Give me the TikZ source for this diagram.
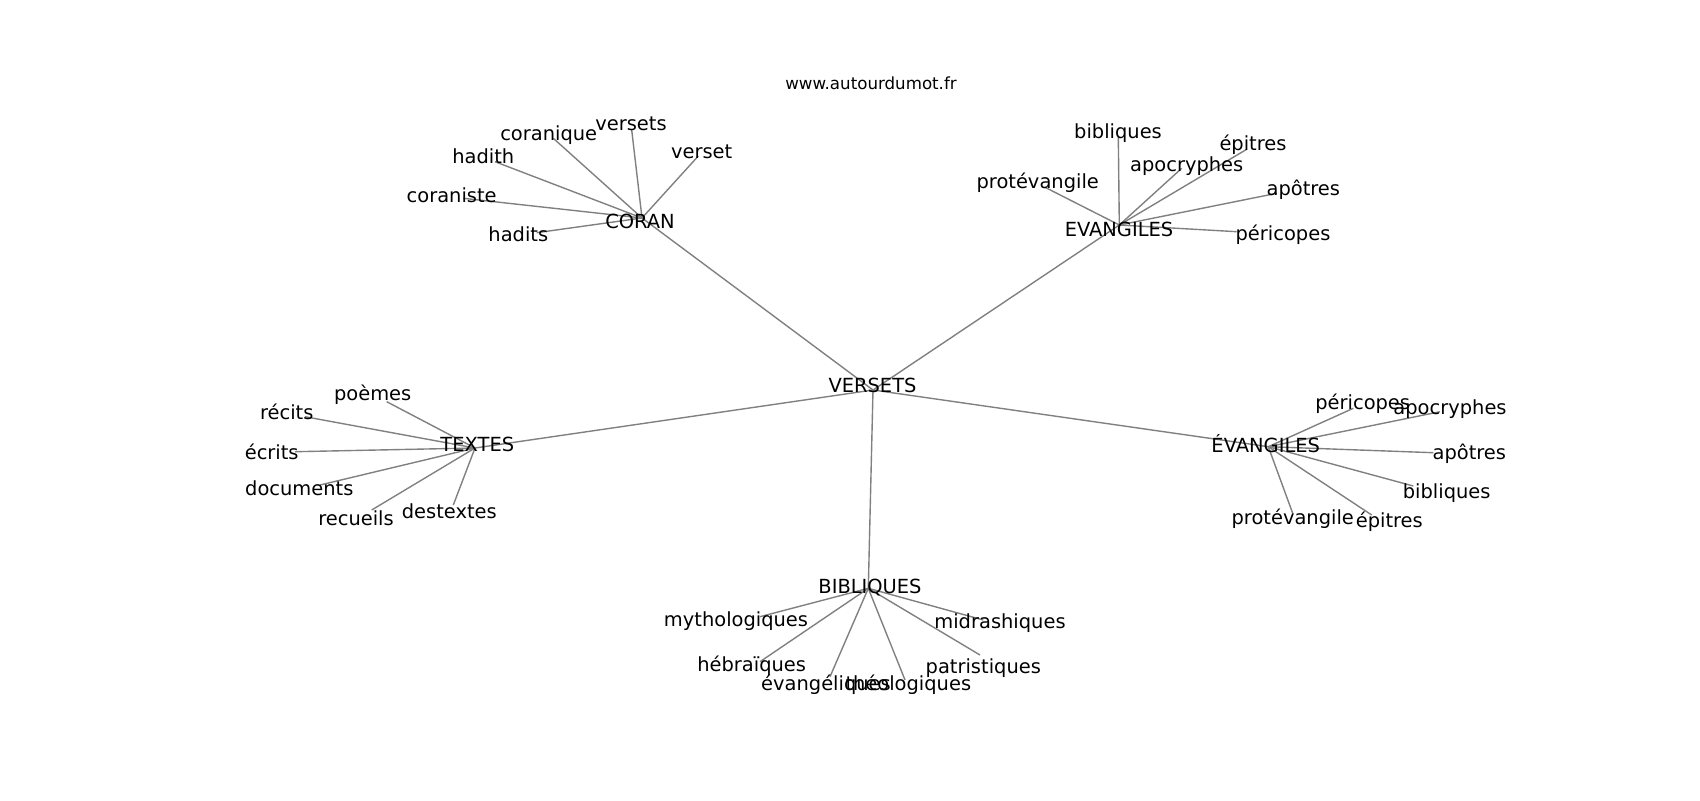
\documentclass[tikz,border=0pt]{standalone}
\usepackage{fontspec}
\setmainfont{DejaVu Sans}
\begin{document}
\begin{tikzpicture}[x=0.72pt,y=-0.72pt,
  lbl/.style={font=\fontsize{14pt}{16pt}\selectfont,text height=0.729em,text depth=0pt,inner sep=0pt,anchor=center,yshift=-1.5pt},
  ttl/.style={font=\fontsize{12pt}{14pt}\selectfont,text height=0.729em,text depth=0pt,inner sep=0pt,anchor=center,yshift=-1pt},
  edge/.style={draw=black!50,line width=1pt}]
\useasboundingbox[fill=white] (0,0) rectangle (1700,800);
% line ends (graph node positions)
\coordinate (cV) at (873,390);
\coordinate (cCORAN) at (642,218);
\coordinate (cEV) at (1119.3,225);
\coordinate (cTX) at (475,448);
\coordinate (cEVA) at (1268.3,446.7);
\coordinate (cBIB) at (868.3,588.3);
% CORAN
\coordinate (c1a) at (631.7,130);
\coordinate (c1b) at (553.3,138.3);
\coordinate (c1c) at (495,161.7);
\coordinate (c1d) at (463.3,198.3);
\coordinate (c1e) at (536.7,232.7);
\coordinate (c1f) at (698.3,156);
% EVANGILES
\coordinate (c2a) at (1118.3,136.7);
\coordinate (c2b) at (1045,187.3);
\coordinate (c2c) at (1181.7,168.3);
\coordinate (c2d) at (1246.7,149.3);
\coordinate (c2e) at (1276.7,193.3);
\coordinate (c2f) at (1236.7,231.7);
% TEXTES
\coordinate (c3a) at (386.7,401.7);
\coordinate (c3b) at (305,416.7);
\coordinate (c3c) at (295,451.7);
\coordinate (c3d) at (320,485);
\coordinate (c3e) at (371.7,510);
\coordinate (c3f) at (453.3,505);
% ÉVANGILES
\coordinate (c4a) at (1353.3,408.3);
\coordinate (c4b) at (1440,411.7);
\coordinate (c4c) at (1433.3,452.7);
\coordinate (c4d) at (1413.3,486);
\coordinate (c4e) at (1371.7,515);
\coordinate (c4f) at (1292.7,513.3);
% BIBLIQUES
\coordinate (c5a) at (760,616.7);
\coordinate (c5b) at (760,661.7);
\coordinate (c5c) at (830,676.7);
\coordinate (c5d) at (905,680);
\coordinate (c5e) at (980,655);
\coordinate (c5f) at (983.3,620);
% edges
\foreach \t in {cCORAN,cEV,cTX,cEVA,cBIB} \draw[edge] (cV) -- (\t);
\foreach \t in {c1a,c1b,c1c,c1d,c1e,c1f} \draw[edge] (cCORAN) -- (\t);
\foreach \t in {c2a,c2b,c2c,c2d,c2e,c2f} \draw[edge] (cEV) -- (\t);
\foreach \t in {c3a,c3b,c3c,c3d,c3e,c3f} \draw[edge] (cTX) -- (\t);
\foreach \t in {c4a,c4b,c4c,c4d,c4e,c4f} \draw[edge] (cEVA) -- (\t);
\foreach \t in {c5a,c5b,c5c,c5d,c5e,c5f} \draw[edge] (cBIB) -- (\t);
% labels
\node[ttl] (title) at (871,83) {www.autourdumot.fr};
\node[lbl] (tV) at (872.5,385) {VERSETS};
\node[lbl] (tCORAN) at (640,221.7) {CORAN};
\node[lbl] (tEV) at (1119,229) {EVANGILES};
\node[lbl] (tTX) at (477.3,444) {TEXTES};
\node[lbl] (tEVA) at (1265.7,445) {ÉVANGILES};
\node[lbl] (tBIB) at (870,586) {BIBLIQUES};
\node[lbl] (t1a) at (631,123) {versets};
\node[lbl] (t1b) at (548.7,133.3) {coranique};
\node[lbl] (t1c) at (483.3,156.7) {hadith};
\node[lbl] (t1d) at (451.7,195.7) {coraniste};
\node[lbl] (t1e) at (518.3,234) {hadits};
\node[lbl] (t1f) at (701.7,151.7) {verset};
\node[lbl] (t2a) at (1118,131.7) {bibliques};
\node[lbl] (t2b) at (1037.7,181.7) {protévangile};
\node[lbl] (t2c) at (1186.7,164) {apocryphes};
\node[lbl] (t2d) at (1253,143) {épitres};
\node[lbl] (t2e) at (1303.3,188.3) {apôtres};
\node[lbl] (t2f) at (1283,233.3) {péricopes};
\node[lbl] (t3a) at (372.7,393.3) {poèmes};
\node[lbl] (t3b) at (286.7,412.7) {récits};
\node[lbl] (t3c) at (271.7,452.7) {écrits};
\node[lbl] (t3d) at (299.3,488.3) {documents};
\node[lbl] (t3e) at (356,518.3) {recueils};
\node[lbl] (t3f) at (449.3,511.7) {destextes};
\node[lbl] (t4a) at (1362.7,402.7) {péricopes};
\node[lbl] (t4b) at (1450,407.3) {apocryphes};
\node[lbl] (t4c) at (1469.3,452.7) {apôtres};
\node[lbl] (t4d) at (1446.7,491) {bibliques};
\node[lbl] (t4e) at (1389.3,520) {épitres};
\node[lbl] (t4f) at (1292.7,517.3) {protévangile};
\node[lbl] (t5a) at (736,619.3) {mythologiques};
\node[lbl] (t5b) at (751.7,664.3) {hébraïques};
\node[lbl] (t5c) at (826,683.3) {évangéliques};
\node[lbl] (t5d) at (908.3,683.3) {théologiques};
\node[lbl] (t5e) at (983.3,666) {patristiques};
\node[lbl] (t5f) at (1000,621.7) {midrashiques};
\end{tikzpicture}
\end{document}
